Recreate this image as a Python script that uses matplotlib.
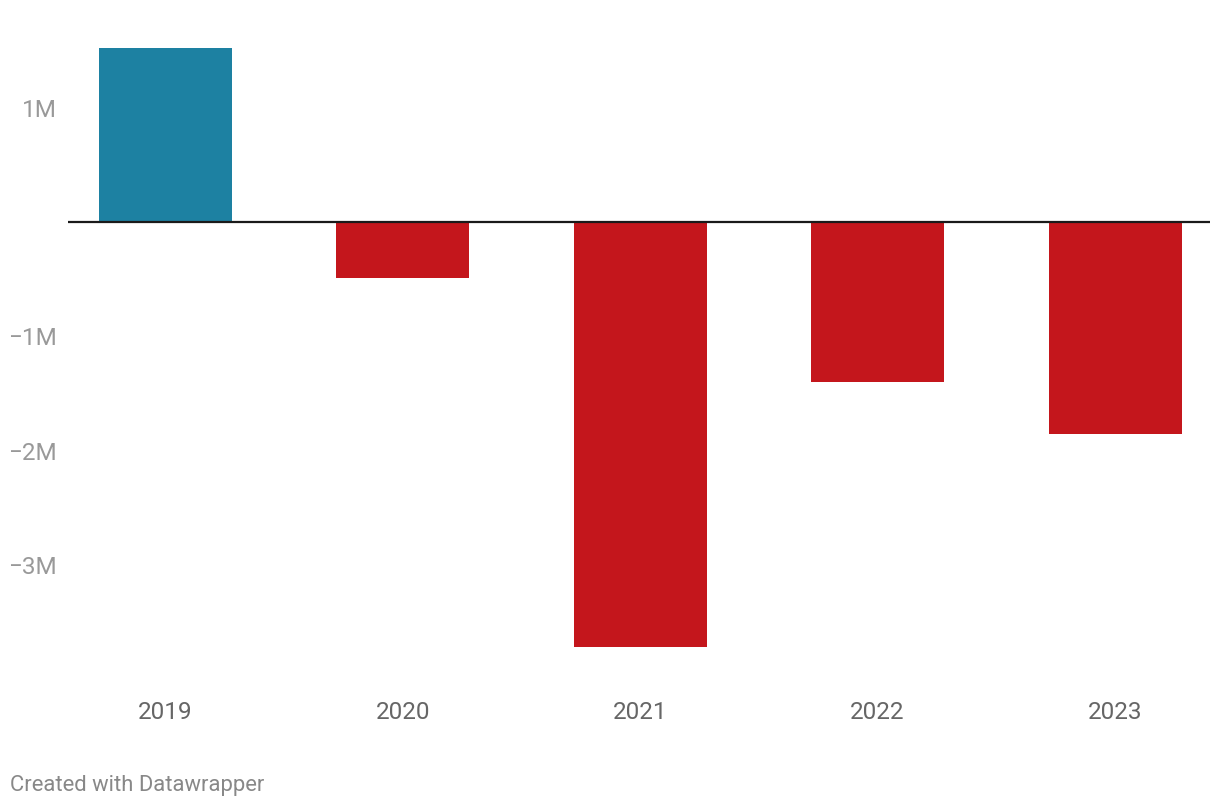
import matplotlib.pyplot as plt

# datos del grafico (millones)
anios = ["2019", "2020", "2021", "2022", "2023"]
valores = [1.52, -0.49, -3.72, -1.40, -1.855]
ticks_y = [1, -1, -2, -3]
etiquetas_y = ["1M", "\u22121M", "\u22122M", "\u22123M"]

azul = "#1d81a2"
rojo = "#c4161c"
gris = "#999999"

plt.rcParams['font.family'] = ['Roboto', 'DejaVu Sans']

fig = plt.figure(figsize=(12.2, 8.08), dpi=100)
ax = fig.add_axes([68 / 1220, 0.1878, (1210 - 68) / 1220, 0.7709])

x = list(range(len(anios)))
colores = [azul if v >= 0 else rojo for v in valores]
ax.bar(x, valores, width=0.56, color=colores, zorder=2)
ax.axhline(0, color="#1a1a1a", linewidth=1.6, zorder=3)

ax.set_xlim(-0.41, 4.4)
ax.set_ylim(-3.8, 1.65)

ax.set_yticks(ticks_y)
ax.set_yticklabels(etiquetas_y)
ax.set_xticks(x)
ax.set_xticklabels(anios)
ax.tick_params(axis="y", length=0, pad=8, labelsize=17.5, labelcolor=gris)
ax.tick_params(axis="x", length=0, pad=32, labelsize=17.5, labelcolor="#666666")

for s in ax.spines.values():
    s.set_visible(False)

fig.text(10 / 1220, 1 - 786 / 808, "Created with Datawrapper", fontsize=15.8,
         color="#888888", va="center", ha="left")

fig.savefig("out.png", dpi=100)
